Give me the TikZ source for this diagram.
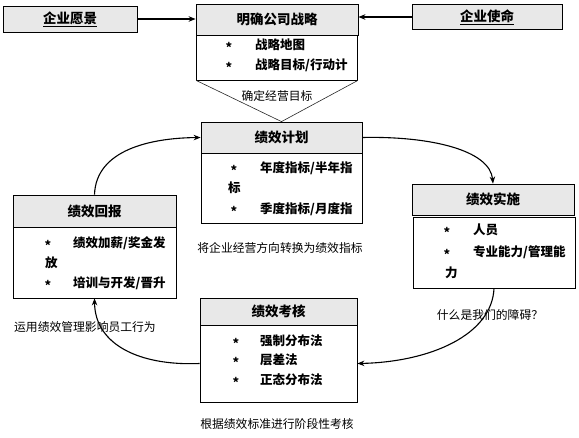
\documentclass[tikz,border=0pt]{standalone}
\usepackage{fontspec}
\newfontfamily\cjk{Noto Sans CJK SC}
\usetikzlibrary{arrows.meta}
\tikzset{
  hdr/.style={draw=black, line width=0.8pt, fill=black!9, inner sep=0pt,
    font=\cjk\bfseries\fontsize{13.5}{16}\selectfont},
  bodybox/.style={draw=black, line width=0.8pt, fill=white, inner sep=0pt},
  topbox/.style={draw=black, line width=0.8pt, fill=black!9, inner sep=0pt,
    font=\cjk\bfseries\fontsize{13.5}{16}\selectfont},
  itm/.style={anchor=west, inner sep=0pt, font=\cjk\bfseries\fontsize{12.5}{15}\selectfont},
  bul/.style={anchor=center, inner sep=0pt, yshift=-2pt, font=\cjk\bfseries\fontsize{12.5}{15}\selectfont},
  captxt/.style={inner sep=0pt, font=\cjk\fontsize{11.8}{14}\selectfont},
  arr/.style={line width=1.1pt, -{Stealth[length=7pt,width=5.5pt]}},
  sarr/.style={line width=1.6pt, -{Stealth[length=7pt,width=5.5pt]}},
}
\begin{document}
\begin{tikzpicture}[x=1pt,y=-1pt]
\useasboundingbox (0,0) rectangle (579,437);
% top row
\node[topbox, minimum width=134pt, minimum height=26pt] (vision) at (70,19) {\underline{企业愿景}};
\node[topbox, minimum width=150pt, minimum height=25pt] (mission) at (487,17) {\underline{企业使命}};
\node[hdr, minimum width=162pt, minimum height=31pt] (sh) at (277,19.5) {明确公司战略};
\node[bodybox, minimum width=161pt, minimum height=45pt] (sb) at (277,57.5) {};
\node[bul] (sb1) at (229,45) {*};
\node[itm] (sb1t) at (255,45) {战略地图};
\node[bul] (sb2) at (229,65) {*};
\node[itm] (sb2t) at (255,65) {战略目标/行动计};
\draw[sarr] (vision.east) -- (sh.west |- vision.east);
\draw[sarr] (mission.west) -- (sh.east |- mission.west);
% plan
\node[hdr, minimum width=161pt, minimum height=31pt] (ph) at (281.5,137.5) {绩效计划};
\node[bodybox, minimum width=161pt, minimum height=70pt] (pb) at (281.5,188) {};
\node[bul] (pb1) at (234,168) {*};
\node[itm] (pb1t) at (260,168) {年度指标/半年指};
\node[itm] (pb2t) at (228,188) {标};
\node[bul] (pb3) at (234,209) {*};
\node[itm] (pb3t) at (260,209) {季度指标/月度指};
\draw[black!85, line width=0.6pt] (sb.south west) -- (ph.north) -- (sb.south east);
\node[captxt] (c1) at (277,96) {确定经营目标};
% reward
\node[hdr, minimum width=163pt, minimum height=32pt] (rh) at (94.5,211) {绩效回报};
\node[bodybox, minimum width=163pt, minimum height=71pt] (rb) at (94.5,262.5) {};
\node[bul] (rb1) at (48,243) {*};
\node[itm] (rb1t) at (73,243) {绩效加薪/奖金发};
\node[itm] (rb2t) at (45,263) {放};
\node[bul] (rb3) at (48,283) {*};
\node[itm] (rb3t) at (73,283) {培训与开发/晋升};
% implement
\node[hdr, minimum width=162pt, minimum height=31pt] (ih) at (493,199.5) {绩效实施};
\node[bodybox, minimum width=162pt, minimum height=71pt] (ib) at (494,252.5) {};
\node[bul] (ib1) at (447,230) {*};
\node[itm] (ib1t) at (473,230) {人员};
\node[bul] (ib2) at (447,252) {*};
\node[itm] (ib2t) at (473,252) {专业能力/管理能};
\node[itm] (ib3t) at (445,273) {力};
% appraisal
\node[hdr, minimum width=157pt, minimum height=27pt] (kh) at (278.5,311.5) {绩效考核};
\node[bodybox, minimum width=157pt, minimum height=77pt] (kb) at (278.5,363.5) {};
\node[bul] (kb1) at (236,341) {*};
\node[itm] (kb1t) at (260,341) {强制分布法};
\node[bul] (kb2) at (236,360) {*};
\node[itm] (kb2t) at (260,360) {层差法};
\node[bul] (kb3) at (236,380) {*};
\node[itm] (kb3t) at (260,380) {正态分布法};
% captions
\node[captxt] (c2) at (280,248) {将企业经营方向转换为绩效指标};
\node[captxt] (c3) at (85,327) {运用绩效管理影响员工行为};
\node[captxt] (c4) at (490,315) {什么是我们的障碍？};
\node[captxt] (c5) at (277,424) {根据绩效标准进行阶段性考核};
% cycle arrows
\draw[arr] (rh.north) .. controls (96,150) and (150,138) .. (ph.west);
\draw[arr] (ph.east) .. controls (430,136) and (490,150) .. (ih.north);
\draw[arr] (ib.south) .. controls (492,335) and (430,362) .. (kb.east);
\draw[arr] (kb.west) .. controls (140,366) and (95,345) .. (rb.south);
\end{tikzpicture}
\end{document}
